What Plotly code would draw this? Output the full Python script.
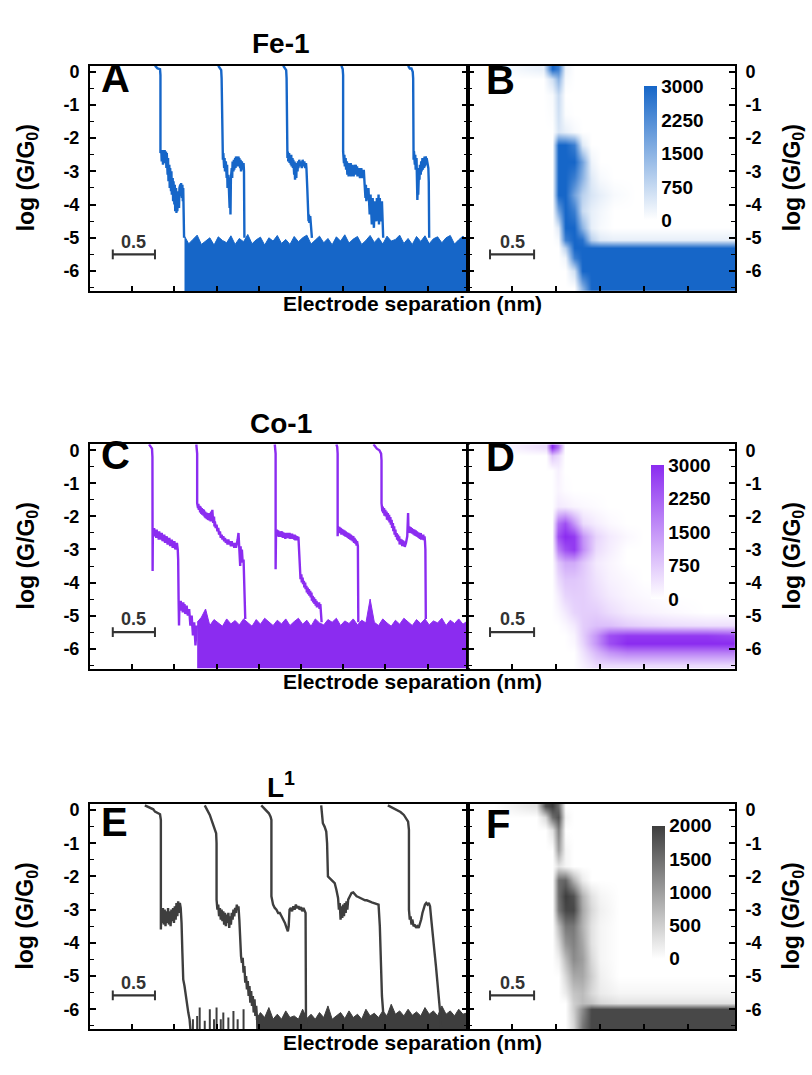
import plotly.graph_objects as go

# ---------------- data ----------------
# Panel traces: (x in nm-like units, log(G/G0))
FE_T1 = [(0.77,0.18),(0.80,0.10),(0.83,0.08),(0.835,-0.1),(0.835,-2.45),(0.845,-2.36),(0.85,-2.7),(0.86,-2.36),(0.865,-2.8),(0.87,-2.4),(0.88,-2.75),(0.885,-2.36),(0.89,-2.7),(0.90,-2.4),(0.905,-2.9),(0.91,-2.45),(0.92,-3.1),(0.925,-2.6),(0.93,-3.3),(0.94,-2.8),(0.945,-3.5),(0.95,-2.9),(0.96,-3.6),(0.965,-3.0),(0.97,-3.7),(0.98,-3.2),(0.985,-3.9),(0.99,-3.3),(1.0,-4.0),(1.005,-3.4),(1.01,-4.2),(1.02,-3.5),(1.025,-4.25),(1.03,-3.6),(1.035,-4.2),(1.045,-3.6),(1.055,-4.1),(1.06,-3.5),(1.07,-3.4),(1.075,-3.75),(1.08,-3.35),(1.09,-3.8),(1.095,-3.4),(1.10,-3.9),(1.105,-3.5),(1.11,-4.5),(1.115,-5.0)]
FE_T2 = [(1.52,0.18),(1.54,0.12),(1.555,0.05),(1.56,-0.2),(1.565,-1.5),(1.57,-2.3),(1.575,-2.65),(1.58,-2.45),(1.59,-2.9),(1.595,-2.6),(1.60,-3.0),(1.61,-2.7),(1.62,-3.2),(1.625,-2.8),(1.63,-3.5),(1.64,-3.1),(1.645,-3.8),(1.65,-3.3),(1.655,-4.1),(1.66,-3.5),(1.665,-4.3),(1.67,-3.2),(1.68,-2.9),(1.685,-3.2),(1.69,-2.7),(1.70,-3.0),(1.705,-2.65),(1.71,-2.95),(1.72,-2.6),(1.725,-2.9),(1.73,-2.55),(1.74,-2.85),(1.745,-2.6),(1.75,-2.8),(1.76,-2.55),(1.765,-2.85),(1.77,-2.6),(1.78,-2.9),(1.785,-2.65),(1.79,-3.0),(1.80,-2.7),(1.81,-2.95),(1.82,-2.75),(1.825,-3.0),(1.83,-5.0)]
FE_T3 = [(2.29,0.18),(2.31,0.12),(2.325,0.05),(2.33,-0.2),(2.335,-2.4),(2.34,-2.6),(2.345,-2.4),(2.35,-2.7),(2.36,-2.45),(2.365,-2.75),(2.37,-2.55),(2.38,-2.8),(2.385,-2.5),(2.39,-2.85),(2.40,-2.6),(2.405,-2.9),(2.41,-2.65),(2.42,-3.1),(2.425,-2.7),(2.43,-3.25),(2.44,-2.8),(2.445,-3.2),(2.45,-2.75),(2.46,-3.0),(2.465,-2.7),(2.47,-2.9),(2.48,-2.65),(2.49,-2.85),(2.50,-2.7),(2.51,-2.9),(2.52,-2.65),(2.53,-2.85),(2.54,-2.7),(2.55,-2.9),(2.56,-2.75),(2.565,-2.9),(2.575,-3.5),(2.58,-4.3),(2.59,-4.5),(2.595,-4.3),(2.60,-4.55),(2.61,-4.35),(2.62,-4.8),(2.63,-5.0)]
FE_T4 = [(2.98,0.18),(2.995,0.08),(3.0,-0.1),(3.0,-2.4),(3.01,-2.75),(3.015,-2.5),(3.02,-2.85),(3.03,-2.6),(3.035,-2.95),(3.045,-2.7),(3.05,-3.1),(3.06,-2.75),(3.065,-3.15),(3.075,-2.8),(3.08,-3.1),(3.09,-2.75),(3.095,-3.15),(3.105,-2.8),(3.11,-3.1),(3.12,-2.85),(3.125,-3.15),(3.135,-2.8),(3.14,-3.05),(3.15,-2.8),(3.155,-3.1),(3.165,-2.85),(3.17,-3.15),(3.185,-2.9),(3.20,-3.2),(3.215,-2.9),(3.23,-3.2),(3.245,-2.95),(3.255,-3.4),(3.265,-3.8),(3.27,-3.4),(3.275,-3.9),(3.285,-3.5),(3.29,-3.85),(3.30,-3.5),(3.31,-4.1),(3.315,-4.3),(3.325,-3.7),(3.33,-4.4),(3.34,-4.6),(3.35,-3.8),(3.355,-4.4),(3.365,-4.7),(3.375,-3.9),(3.38,-4.3),(3.395,-4.5),(3.40,-3.8),(3.41,-4.4),(3.42,-3.7),(3.425,-4.6),(3.435,-3.8),(3.44,-4.5),(3.455,-4.4),(3.46,-3.9),(3.465,-4.3),(3.47,-4.8),(3.475,-5.0)]
FE_T5 = [(3.77,0.18),(3.79,0.1),(3.81,0.1),(3.825,0.0),(3.83,-0.2),(3.83,-2.3),(3.835,-2.65),(3.84,-2.4),(3.85,-2.8),(3.855,-2.5),(3.86,-2.95),(3.87,-2.6),(3.875,-3.5),(3.88,-3.86),(3.885,-3.4),(3.89,-3.7),(3.90,-2.9),(3.905,-3.25),(3.91,-2.8),(3.92,-3.1),(3.925,-2.7),(3.93,-3.0),(3.94,-2.6),(3.945,-2.95),(3.95,-2.6),(3.96,-2.9),(3.965,-2.55),(3.97,-2.85),(3.98,-2.55),(3.985,-2.8),(3.99,-2.6),(4.0,-2.75),(4.01,-2.9),(4.015,-3.3),(4.02,-5.0)]
FE_FLOOR_X = [1.12,1.17,1.22,1.27,1.32,1.37,1.42,1.47,1.52,1.57,1.62,1.67,1.72,1.77,1.82,1.87,1.92,1.97,2.02,2.07,2.12,2.17,2.22,2.27,2.32,2.37,2.42,2.47,2.52,2.57,2.62,2.67,2.72,2.77,2.82,2.87,2.92,2.97,3.02,3.07,3.12,3.17,3.22,3.27,3.32,3.37,3.42,3.47,3.52,3.57,3.62,3.67,3.72,3.77,3.82,3.87,3.92,3.97,4.02,4.07,4.12,4.17,4.22,4.27,4.32,4.37,4.42,4.48]
FE_FLOOR_TOP = [-4.95,-5.18,-5.05,-4.92,-5.2,-5.1,-5.0,-5.22,-4.97,-5.08,
                -5.15,-4.94,-5.2,-5.02,-5.12,-4.9,-5.18,-5.06,-4.98,-5.22,
                -5.0,-5.1,-4.93,-5.17,-5.05,-5.2,-4.96,-5.12,-5.0,-4.92,
                -5.19,-5.07,-4.95,-5.15,-5.02,-5.21,-4.97,-5.1,-4.91,-5.16,
                -5.04,-4.96,-5.2,-5.08,-4.93,-5.14,-5.0,-5.19,-4.95,-5.1,
                -5.05,-4.92,-5.17,-5.02,-5.2,-4.96,-5.11,-4.94,-5.18,-5.03,
                -4.97,-5.15,-5.0,-4.93,-5.19,-5.06,-4.95,-5.1]

CO_T1 = [(0.70,0.18),(0.72,0.1),(0.735,0.05),(0.74,-0.2),(0.742,-3.65),(0.745,-2.4),(0.755,-2.6),(0.76,-2.35),(0.77,-2.6),(0.775,-2.4),(0.785,-2.65),(0.79,-2.4),(0.80,-2.65),(0.805,-2.45),(0.815,-2.7),(0.82,-2.45),(0.83,-2.7),(0.835,-2.5),(0.845,-2.7),(0.85,-2.5),(0.86,-2.75),(0.865,-2.55),(0.875,-2.75),(0.88,-2.55),(0.89,-2.8),(0.895,-2.6),(0.905,-2.8),(0.91,-2.6),(0.92,-2.85),(0.925,-2.65),(0.935,-2.85),(0.94,-2.65),(0.95,-2.9),(0.955,-2.7),(0.965,-2.9),(0.97,-2.7),(0.98,-2.95),(0.985,-2.75),(0.995,-2.95),(1.0,-2.75),(1.01,-3.0),(1.015,-2.8),(1.025,-3.0),(1.03,-2.8),(1.04,-3.0),(1.045,-3.3),(1.05,-4.5),(1.055,-5.3),(1.06,-4.6),(1.07,-4.85),(1.075,-4.55),(1.085,-4.85),(1.09,-4.6),(1.10,-4.9),(1.105,-4.6),(1.115,-4.9),(1.12,-4.65),(1.13,-4.95),(1.145,-4.7),(1.16,-5.0),(1.175,-4.8),(1.19,-5.3),(1.205,-5.0),(1.22,-5.6),(1.235,-5.2),(1.25,-5.9),(1.265,-5.3)]
CO_T2 = [(1.26,0.18),(1.265,0.1),(1.27,-0.1),(1.27,-1.6),(1.28,-1.75),(1.285,-1.62),(1.29,-1.8),(1.30,-1.68),(1.305,-1.88),(1.31,-1.7),(1.32,-1.92),(1.325,-1.75),(1.33,-1.95),(1.34,-1.78),(1.345,-1.98),(1.35,-1.8),(1.36,-2.02),(1.365,-1.85),(1.37,-2.05),(1.38,-1.88),(1.385,-2.08),(1.39,-1.9),(1.40,-2.1),(1.405,-1.92),(1.41,-2.12),(1.42,-1.9),(1.43,-2.15),(1.435,-1.85),(1.44,-2.1),(1.45,-1.8),(1.455,-2.15),(1.46,-2.2),(1.47,-2.0),(1.475,-2.3),(1.48,-2.15),(1.49,-2.35),(1.50,-2.25),(1.51,-2.45),(1.52,-2.35),(1.53,-2.55),(1.54,-2.45),(1.55,-2.65),(1.56,-2.55),(1.57,-2.7),(1.58,-2.6),(1.59,-2.75),(1.60,-2.65),(1.61,-2.8),(1.62,-2.7),(1.63,-2.85),(1.64,-2.7),(1.65,-2.85),(1.66,-2.75),(1.67,-2.9),(1.68,-2.75),(1.69,-2.9),(1.70,-2.8),(1.71,-2.95),(1.72,-2.8),(1.73,-2.95),(1.74,-2.85),(1.75,-2.7),(1.76,-2.5),(1.77,-2.9),(1.78,-3.5),(1.785,-2.9),(1.79,-3.3),(1.80,-3.0),(1.81,-3.4),(1.82,-3.3),(1.83,-4.0),(1.84,-5.1)]
CO_T3 = [(2.19,0.18),(2.195,0.1),(2.20,-0.1),(2.20,-3.6),(2.205,-2.4),(2.21,-2.6),(2.215,-2.4),(2.225,-2.6),(2.23,-2.42),(2.24,-2.62),(2.245,-2.45),(2.255,-2.62),(2.26,-2.45),(2.27,-2.6),(2.275,-2.45),(2.285,-2.65),(2.29,-2.48),(2.30,-2.65),(2.305,-2.5),(2.315,-2.68),(2.32,-2.5),(2.33,-2.65),(2.335,-2.5),(2.345,-2.65),(2.35,-2.5),(2.36,-2.66),(2.365,-2.5),(2.375,-2.68),(2.38,-2.52),(2.39,-2.66),(2.395,-2.52),(2.405,-2.68),(2.41,-2.55),(2.42,-2.7),(2.425,-2.55),(2.435,-2.72),(2.44,-2.58),(2.45,-2.72),(2.455,-2.6),(2.465,-2.72),(2.47,-2.62),(2.48,-3.4),(2.485,-3.8),(2.49,-3.65),(2.495,-3.9),(2.505,-3.75),(2.51,-4.0),(2.52,-3.85),(2.525,-4.05),(2.535,-3.95),(2.54,-4.15),(2.55,-4.0),(2.555,-4.2),(2.565,-4.1),(2.57,-4.3),(2.58,-4.15),(2.585,-4.35),(2.595,-4.2),(2.60,-4.4),(2.61,-4.25),(2.615,-4.45),(2.625,-4.3),(2.63,-4.55),(2.64,-4.4),(2.645,-4.6),(2.655,-4.45),(2.66,-4.65),(2.67,-4.5),(2.675,-4.7),(2.685,-4.55),(2.69,-4.75),(2.70,-4.6),(2.705,-4.75),(2.715,-4.6),(2.72,-4.8),(2.73,-4.65),(2.735,-4.8),(2.74,-5.1),(2.745,-5.2)]
CO_T4 = [(2.92,0.18),(2.93,0.1),(2.935,-0.1),(2.935,-2.6),(2.94,-2.3),(2.95,-2.5),(2.955,-2.32),(2.965,-2.5),(2.97,-2.35),(2.98,-2.55),(2.985,-2.38),(2.995,-2.55),(3.0,-2.4),(3.01,-2.58),(3.015,-2.42),(3.025,-2.6),(3.03,-2.45),(3.04,-2.62),(3.045,-2.48),(3.055,-2.65),(3.06,-2.5),(3.07,-2.68),(3.075,-2.52),(3.085,-2.7),(3.09,-2.55),(3.10,-2.72),(3.105,-2.58),(3.115,-2.75),(3.12,-2.6),(3.13,-2.8),(3.135,-2.65),(3.145,-2.82),(3.15,-2.7),(3.16,-2.88),(3.165,-2.75),(3.175,-2.9),(3.18,-5.2)]
CO_T5 = [(3.36,0.18),(3.38,0.1),(3.40,0.05),(3.43,0.0),(3.45,-0.1),(3.455,-0.3),(3.455,-1.6),(3.465,-1.85),(3.47,-1.7),(3.475,-1.9),(3.485,-1.75),(3.49,-1.98),(3.50,-1.8),(3.505,-2.0),(3.515,-1.85),(3.52,-2.1),(3.53,-1.9),(3.535,-2.12),(3.545,-1.95),(3.55,-2.18),(3.56,-2.02),(3.565,-2.25),(3.575,-2.1),(3.58,-2.35),(3.59,-2.2),(3.595,-2.45),(3.605,-2.3),(3.61,-2.55),(3.62,-2.4),(3.625,-2.62),(3.635,-2.5),(3.64,-2.7),(3.65,-2.55),(3.655,-2.75),(3.665,-2.6),(3.67,-2.85),(3.68,-2.68),(3.685,-2.85),(3.695,-2.7),(3.70,-2.9),(3.71,-2.72),(3.715,-2.9),(3.725,-2.75),(3.73,-2.92),(3.745,-2.8),(3.76,-2.6),(3.77,-1.9),(3.775,-2.5),(3.785,-2.3),(3.79,-2.5),(3.80,-2.32),(3.805,-2.5),(3.815,-2.35),(3.82,-2.52),(3.83,-2.38),(3.835,-2.55),(3.845,-2.4),(3.85,-2.58),(3.86,-2.42),(3.865,-2.6),(3.875,-2.45),(3.88,-2.62),(3.89,-2.48),(3.895,-2.65),(3.905,-2.5),(3.91,-2.68),(3.92,-2.5),(3.925,-2.7),(3.935,-2.55),(3.94,-2.7),(3.95,-2.55),(3.955,-2.72),(3.965,-2.6),(3.97,-2.75),(3.975,-3.0),(3.98,-5.1)]
CO_FLOOR_X = [1.27,1.32,1.37,1.42,1.47,1.52,1.57,1.62,1.67,1.72,1.77,1.82,1.87,1.92,1.97,2.02,2.07,2.12,2.17,2.22,2.27,2.32,2.37,2.42,2.47,2.52,2.57,2.62,2.67,2.72,2.77,2.82,2.87,2.92,2.97,3.02,3.07,3.12,3.17,3.22,3.27,3.32,3.37,3.42,3.47,3.52,3.57,3.62,3.67,3.72,3.77,3.82,3.87,3.92,3.97,4.02,4.07,4.12,4.17,4.22,4.27,4.32,4.37,4.42,4.48]
CO_FLOOR_TOP = [-5.2,-5.05,-4.8,-5.3,-5.12,-5.22,-5.32,-5.1,-5.25,-5.15,
                -5.28,-5.1,-5.22,-5.32,-5.12,-5.26,-5.08,-5.2,-5.3,-5.14,
                -5.25,-5.1,-5.3,-5.18,-5.08,-5.26,-5.14,-5.32,-5.1,-5.22,
                -5.28,-5.12,-5.2,-5.08,-5.3,-5.16,-5.24,-5.1,-5.28,-5.14,
                -5.22,-4.5,-5.2,-5.3,-5.1,-5.22,-5.32,-5.14,-5.26,-5.08,
                -5.2,-5.3,-5.12,-5.24,-5.1,-5.28,-5.16,-5.22,-5.08,-5.3,
                -5.14,-5.24,-5.1,-5.26,-5.15]

L_T1 = [(0.65,0.14),(0.68,0.1),(0.72,0.06),(0.75,0.02),(0.77,-0.05),(0.80,-0.1),(0.83,-0.13),(0.84,-0.3),(0.84,-3.6),(0.845,-3.0),(0.855,-3.4),(0.865,-2.95),(0.875,-3.45),(0.885,-3.0),(0.895,-3.5),(0.905,-3.05),(0.915,-3.4),(0.925,-2.95),(0.935,-3.45),(0.945,-3.05),(0.955,-3.5),(0.965,-3.0),(0.975,-3.35),(0.985,-2.95),(0.995,-3.4),(1.005,-2.9),(1.015,-3.3),(1.025,-2.8),(1.035,-3.2),(1.045,-2.75),(1.055,-3.1),(1.065,-2.8),(1.075,-2.95),(1.085,-3.4),(1.095,-4.3),(1.105,-5.1),(1.12,-5.3),(1.135,-5.6),(1.15,-5.8),(1.165,-6.1),(1.18,-6.3),(1.19,-6.6)]
L_T2 = [(1.36,0.14),(1.38,0.05),(1.40,-0.05),(1.42,-0.15),(1.44,-0.3),(1.46,-0.45),(1.48,-0.6),(1.495,-0.7),(1.50,-1.0),(1.50,-2.7),(1.51,-3.0),(1.52,-2.85),(1.53,-3.2),(1.54,-2.95),(1.55,-3.3),(1.56,-3.0),(1.57,-3.35),(1.58,-3.05),(1.59,-3.45),(1.60,-3.1),(1.61,-3.5),(1.62,-3.15),(1.63,-3.4),(1.64,-3.1),(1.65,-3.55),(1.66,-3.2),(1.67,-3.45),(1.68,-3.1),(1.69,-3.3),(1.70,-3.0),(1.71,-3.2),(1.72,-2.95),(1.73,-3.1),(1.74,-2.85),(1.75,-3.0),(1.76,-2.9),(1.77,-3.3),(1.78,-4.0),(1.79,-4.4),(1.80,-4.6),(1.81,-4.45),(1.82,-4.9),(1.83,-4.7),(1.84,-5.2),(1.85,-5.0),(1.86,-5.4),(1.87,-5.15),(1.88,-5.6),(1.89,-5.3),(1.90,-5.8),(1.91,-5.45),(1.92,-5.9),(1.93,-5.6),(1.94,-6.1),(1.95,-5.7),(1.96,-6.2),(1.97,-5.9),(1.98,-6.3),(1.99,-6.6)]
L_T3 = [(2.03,0.14),(2.06,0.05),(2.09,-0.02),(2.12,-0.1),(2.14,-0.2),(2.15,-0.3),(2.15,-2.6),(2.16,-2.75),(2.17,-2.85),(2.19,-2.95),(2.21,-3.0),(2.23,-3.1),(2.25,-3.1),(2.27,-3.2),(2.29,-3.3),(2.31,-3.4),(2.33,-3.55),(2.345,-3.65),(2.355,-3.5),(2.365,-3.0),(2.38,-2.95),(2.395,-3.05),(2.41,-2.9),(2.425,-3.0),(2.44,-2.85),(2.455,-2.95),(2.47,-2.9),(2.485,-3.0),(2.50,-2.92),(2.515,-3.05),(2.53,-2.95),(2.545,-3.05),(2.555,-3.1),(2.56,-6.6)]
L_T4 = [(2.74,0.14),(2.75,-0.1),(2.76,-0.4),(2.78,-0.5),(2.80,-0.65),(2.81,-1.0),(2.82,-2.0),(2.84,-2.05),(2.86,-2.1),(2.88,-2.15),(2.90,-2.2),(2.92,-2.4),(2.94,-2.65),(2.95,-3.0),(2.96,-2.8),(2.97,-3.3),(2.98,-2.9),(2.99,-3.25),(3.0,-2.85),(3.01,-3.2),(3.02,-2.8),(3.03,-3.1),(3.04,-2.75),(3.05,-3.0),(3.06,-2.7),(3.08,-2.6),(3.10,-2.5),(3.12,-2.48),(3.14,-2.55),(3.16,-2.6),(3.18,-2.62),(3.20,-2.65),(3.22,-2.68),(3.24,-2.7),(3.26,-2.72),(3.28,-2.72),(3.30,-2.75),(3.32,-2.76),(3.34,-2.78),(3.36,-2.8),(3.38,-2.8),(3.40,-2.82),(3.42,-2.85),(3.435,-3.5),(3.45,-4.8),(3.46,-5.6),(3.475,-6.1),(3.48,-6.6)]
L_T5 = [(3.53,0.14),(3.56,0.1),(3.60,0.06),(3.64,0.0),(3.68,-0.06),(3.72,-0.15),(3.745,-0.25),(3.77,-0.35),(3.78,-0.6),(3.78,-3.0),(3.79,-3.3),(3.80,-3.2),(3.81,-3.45),(3.82,-3.3),(3.835,-3.5),(3.85,-3.45),(3.865,-3.55),(3.88,-3.5),(3.895,-3.55),(3.91,-3.45),(3.925,-3.3),(3.94,-3.1),(3.955,-2.95),(3.97,-2.85),(3.985,-2.8),(4.0,-2.85),(4.015,-2.8),(4.03,-2.9),(4.045,-3.3),(4.06,-3.8),(4.08,-4.2),(4.10,-4.7),(4.12,-5.2),(4.135,-5.6),(4.15,-6.1),(4.16,-6.6)]
L_FLOOR_X = [1.97,2.02,2.07,2.12,2.17,2.22,2.27,2.32,2.37,2.42,2.47,2.52,2.57,2.62,2.67,2.72,2.77,2.82,2.87,2.92,2.97,3.02,3.07,3.12,3.17,3.22,3.27,3.32,3.37,3.42,3.47,3.52,3.57,3.62,3.67,3.72,3.77,3.82,3.87,3.92,3.97,4.02,4.07,4.12,4.17,4.22,4.27,4.32,4.37,4.42,4.48]
L_FLOOR_TOP = [-6.3,-6.1,-6.25,-5.95,-6.3,-6.15,-6.3,-6.05,-6.25,-6.2,
               -6.3,-6.0,-6.28,-6.15,-6.3,-6.1,-6.25,-5.9,-6.3,-6.2,
               -6.1,-6.28,-6.05,-6.25,-6.15,-6.3,-6.0,-6.2,-6.12,-6.25,
               -6.05,-6.2,-5.85,-6.15,-6.05,-6.2,-6.0,-6.18,-6.08,-6.2,
               -5.95,-6.15,-6.05,-6.2,-5.9,-6.15,-6.05,-6.2,-6.0,-6.15,
               -6.1]
L_SPIKE_X = [1.22,1.27,1.30,1.36,1.42,1.47,1.50,1.55,1.58,1.64,1.70,1.75,1.82]
L_SPIKE_TOP = [-6.3,-6.2,-5.95,-6.35,-6.0,-6.3,-5.95,-6.3,-6.1,-6.25,-6.05,-6.3,-6.0]

# 2D histogram counts (coarse grid, cell centres)
B_X = [0.3,0.85,0.95,1.02,1.1,1.2,1.3,1.4,1.5,1.65,1.9,2.4,2.95]
B_Y = [0.1,-0.2,-0.7,-1.3,-1.8,-2.2,-2.7,-3.2,-3.7,-4.2,-4.7,-5.05,-5.3,-5.6,-6.0,-6.5]
B_Z = [[0,300,3000,2500,200,0,0,0,0,0,0,0,0],
       [0,0,600,1500,100,0,0,0,0,0,0,0,0],
       [0,0,100,700,0,0,0,0,0,0,0,0,0],
       [0,0,50,600,50,0,0,0,0,0,0,0,0],
       [0,0,0,500,300,100,0,0,0,0,0,0,0],
       [0,0,0,3000,3000,2500,400,0,0,0,0,0,0],
       [0,0,0,3000,3000,3000,1800,200,0,0,0,0,0],
       [0,0,0,3000,3000,2500,1500,400,100,0,0,0,0],
       [0,0,0,3000,3000,1800,900,500,300,100,0,0,0],
       [0,0,0,1800,3000,2500,700,300,150,0,0,0,0],
       [0,0,0,400,3000,3000,1500,300,100,0,0,0,0],
       [0,0,0,100,2500,3000,2800,900,400,300,300,300,300],
       [0,0,0,0,900,3000,3000,3000,3000,3000,3000,3000,3000],
       [0,0,0,0,200,2500,3000,3000,3000,3000,3000,3000,3000],
       [0,0,0,0,0,600,3000,3000,3000,3000,3000,3000,3000],
       [0,0,0,0,0,0,1500,3000,3000,3000,3000,3000,3000]]
D_X = [0.3,0.88,0.95,1.02,1.1,1.2,1.3,1.45,1.6,1.8,2.0,2.3,2.7,3.0]
D_Y = [0.1,-0.15,-0.6,-1.2,-1.7,-2.2,-2.6,-3.0,-3.4,-3.9,-4.4,-4.9,-5.3,-5.6,-5.85,-6.1,-6.5]
D_Z = [[0,500,3000,2000,0,0,0,0,0,0,0,0,0,0],
       [0,0,800,500,0,0,0,0,0,0,0,0,0,0],
       [0,0,0,200,0,0,0,0,0,0,0,0,0,0],
       [0,0,0,150,50,0,0,0,0,0,0,0,0,0],
       [0,0,0,300,250,150,100,50,0,0,0,0,0,0],
       [0,0,0,2000,2500,1500,500,250,100,0,0,0,0,0],
       [0,0,0,2500,3000,2800,1500,600,300,100,0,0,0,0],
       [0,0,0,1800,2500,2800,1600,500,250,0,0,0,0,0],
       [0,0,0,800,1200,1200,800,300,150,0,0,0,0,0],
       [0,0,0,500,800,800,700,400,200,100,0,0,0,0],
       [0,0,0,250,600,700,700,500,300,150,80,0,0,0],
       [0,0,0,100,300,600,700,700,500,300,200,100,0,0],
       [0,0,0,0,100,300,700,900,900,700,600,500,450,450],
       [0,0,0,0,0,150,700,1500,2500,2800,2800,2800,2800,2600],
       [0,0,0,0,0,100,600,1500,2500,3000,3000,3000,3000,3000],
       [0,0,0,0,0,0,400,1000,1500,1800,1800,1800,1800,1800],
       [0,0,0,0,0,0,200,500,500,500,500,500,500,500]]
F_X = [0.3,0.78,0.88,0.96,1.02,1.1,1.2,1.3,1.4,1.5,1.7,2.2,3.0]
F_Y = [0.12,-0.2,-0.6,-1.2,-1.7,-2.1,-2.6,-3.0,-3.5,-4.0,-4.5,-5.0,-5.5,-5.8,-6.0,-6.5]
F_Z = [[0,300,1800,2000,1500,0,0,0,0,0,0,0,0],
       [0,0,400,1500,1800,100,0,0,0,0,0,0,0],
       [0,0,0,300,1300,0,0,0,0,0,0,0,0],
       [0,0,0,0,1000,100,0,0,0,0,0,0,0],
       [0,0,0,0,300,100,0,0,0,0,0,0,0],
       [0,0,0,0,1500,1600,800,200,0,0,0,0,0],
       [0,0,0,0,1500,2000,1800,800,300,100,0,0,0],
       [0,0,0,0,1400,1900,1900,900,400,150,0,0,0],
       [0,0,0,0,700,1400,1400,800,300,100,0,0,0],
       [0,0,0,0,400,1100,1300,900,300,100,0,0,0],
       [0,0,0,0,150,700,1200,1000,400,100,0,0,0],
       [0,0,0,0,0,400,900,900,500,150,0,0,0],
       [0,0,0,0,0,200,600,700,400,200,100,100,100],
       [0,0,0,0,0,0,500,700,600,400,300,300,300],
       [0,0,0,0,0,0,500,1200,1900,1900,1900,1900,1900],
       [0,0,0,0,0,0,400,1400,1900,1900,1900,1900,1900]]

ROW_TITLES = ["Fe-1", "Co-1", "L<sup>1</sup>"]
PANEL_LETTERS = [("A", "B"), ("C", "D"), ("E", "F")]
Y_TICKS = [0, -1, -2, -3, -4, -5, -6]
Y_TICKTEXT = ["0", "-1", "-2", "-3", "-4", "-5", "-6"]
LEFT_XTICKS = [0.5, 1.0, 1.5, 2.0, 2.5, 3.0, 3.5, 4.0]
RIGHT_XTICKS = [0.5, 1.0, 1.5, 2.0, 2.5]
CB_TICKS = [[0, 750, 1500, 2250, 3000], [0, 750, 1500, 2250, 3000], [0, 500, 1000, 1500, 2000]]
CB_MAX = [3000, 3000, 2000]
SCALE_NM = 0.5

# ---------------- styling / layout ----------------
FONT = "Liberation Sans, Arial, Helvetica, sans-serif"
COLORS = ["rgb(22,102,200)", "rgb(139,44,240)", "rgb(62,62,62)"]
W, H = 812, 1075
Y_RANGE = [-6.6, 0.18]
LEFT_RANGE = [0, 4.48]
RIGHT_RANGE = [0, 3.03]
PX_L, PX_M, PX_R = 90, 468, 735
ROWS_PX = [(62, 288), (442, 667), (803, 1029)]
CB_PX = [(644, 83, 217), (651, 463, 597), (652, 825, 958)]
LETTER_TOP = [50, 429, 797]
TITLE_Y = [40, 421, 784]


def fx(p):
    return p / W


def fy(p):
    return 1 - p / H


def bold(size, color="black"):
    return dict(family=FONT, size=size, color=color, weight="bold")


fig = go.Figure()
layout = dict(width=W, height=H, margin=dict(l=0, r=0, t=0, b=0),
              paper_bgcolor="white", plot_bgcolor="white", showlegend=False)
annotations = []

row_traces = [[FE_T1, FE_T2, FE_T3, FE_T4, FE_T5],
              [CO_T1, CO_T2, CO_T3, CO_T4, CO_T5],
              [L_T1, L_T2, L_T3, L_T4, L_T5]]
row_floor = [(FE_FLOOR_X, FE_FLOOR_TOP), (CO_FLOOR_X, CO_FLOOR_TOP), (L_FLOOR_X, L_FLOOR_TOP)]
row_hist = [(B_X, B_Y, B_Z), (D_X, D_Y, D_Z), (F_X, F_Y, F_Z)]

for r in range(3):
    top, bot = ROWS_PX[r]
    color = COLORS[r]
    nl, nr = 2 * r + 1, 2 * r + 2
    xl = "x" if nl == 1 else f"x{nl}"
    yl = "y" if nl == 1 else f"y{nl}"
    xr, yr = f"x{nr}", f"y{nr}"

    common_y = dict(range=Y_RANGE, domain=[fy(bot), fy(top)], tickmode="array",
                    tickvals=Y_TICKS, ticktext=Y_TICKTEXT, ticks="inside", ticklen=6,
                    tickwidth=1.5, tickcolor="black",
                    minor=dict(tickmode="linear", tick0=0, dtick=0.5, ticks="inside",
                               ticklen=4, tickwidth=1.2, tickcolor="black"),
                    showline=True, linewidth=2, linecolor="black", mirror="ticks",
                    showgrid=False, zeroline=False, tickfont=bold(18), ticklabelstandoff=5)
    common_x = dict(tickmode="array", ticks="inside", ticklen=5, tickwidth=1.5,
                    tickcolor="black", showticklabels=False, showline=True, linewidth=2,
                    linecolor="black", mirror=True, showgrid=False, zeroline=False)
    layout["xaxis" if nl == 1 else f"xaxis{nl}"] = dict(common_x, range=LEFT_RANGE,
                                                       domain=[fx(PX_L), fx(PX_M)],
                                                       tickvals=LEFT_XTICKS, anchor=yl)
    layout["yaxis" if nl == 1 else f"yaxis{nl}"] = dict(common_y, side="left", anchor=xl)
    layout[f"xaxis{nr}"] = dict(common_x, range=RIGHT_RANGE, domain=[fx(PX_M), fx(PX_R)],
                                tickvals=RIGHT_XTICKS, anchor=yr)
    layout[f"yaxis{nr}"] = dict(common_y, side="right", anchor=xr)

    # noise floor (filled band)
    fxs, ftop = row_floor[r]
    fig.add_trace(go.Scatter(x=[fxs[0], fxs[-1]], y=[Y_RANGE[0], Y_RANGE[0]], mode="lines",
                             line=dict(width=0, color=color), xaxis=xl, yaxis=yl,
                             hoverinfo="skip"))
    fig.add_trace(go.Scatter(x=fxs, y=ftop, mode="lines", fill="tonexty", fillcolor=color,
                             line=dict(width=1, color=color), xaxis=xl, yaxis=yl,
                             hoverinfo="skip"))
    if r == 2:
        sx, sy = [], []
        for xv, tv in zip(L_SPIKE_X, L_SPIKE_TOP):
            sx += [xv, xv, None]
            sy += [Y_RANGE[0], tv, None]
        fig.add_trace(go.Scatter(x=sx, y=sy, mode="lines", line=dict(width=2, color=color),
                                 xaxis=xl, yaxis=yl, hoverinfo="skip"))
    # single traces
    for tr in row_traces[r]:
        xs, ys = zip(*tr)
        fig.add_trace(go.Scatter(x=list(xs), y=list(ys), mode="lines",
                                 line=dict(width=2.4, color=color), xaxis=xl, yaxis=yl,
                                 hoverinfo="skip"))
    # 2D histogram
    hx, hy, hz = row_hist[r]
    cbx, cbt, cbb = CB_PX[r]
    fig.add_trace(go.Heatmap(
        x=hx, y=hy, z=hz, zsmooth="best", zmin=0, zmax=CB_MAX[r],
        colorscale=[[0, "rgb(255,255,255)"], [1, color]], xaxis=xr, yaxis=yr,
        colorbar=dict(x=fx(cbx), xanchor="left", xpad=0, y=fy((cbt + cbb) / 2),
                      yanchor="middle", ypad=0, len=(cbb - cbt) / H, lenmode="fraction",
                      thickness=13, thicknessmode="pixels", outlinewidth=0,
                      tickmode="array", tickvals=CB_TICKS[r],
                      ticktext=[str(v) for v in CB_TICKS[r]], ticks="",
                      tickfont=bold(19))))

    # scale bars
    for xa, ya, x0 in ((xl, yl, 0.27), (xr, yr, 0.25)):
        ybar = -5.5 if r < 2 else -5.58
        fig.add_trace(go.Scatter(x=[x0, x0 + SCALE_NM], y=[ybar, ybar], mode="lines+markers",
                                 line=dict(width=2.2, color="#333"),
                                 marker=dict(symbol="line-ns-open", size=7,
                                             line=dict(width=2, color="#333")),
                                 xaxis=xa, yaxis=ya, hoverinfo="skip"))
        annotations.append(dict(x=x0 + SCALE_NM / 2, y=ybar + 0.02, xref=xa, yref=ya,
                                text="0.5", showarrow=False, yanchor="bottom",
                                font=bold(18, "#333")))

    # panel letters
    lt = LETTER_TOP[r]
    annotations.append(dict(x=fx(PX_L + 9), y=fy(lt), xref="paper", yref="paper",
                            text=PANEL_LETTERS[r][0], showarrow=False, xanchor="left",
                            yanchor="top", font=bold(40)))
    annotations.append(dict(x=fx(PX_M + 16), y=fy(lt + 2), xref="paper", yref="paper",
                            text=PANEL_LETTERS[r][1], showarrow=False, xanchor="left",
                            yanchor="top", font=bold(40)))
    # row title
    annotations.append(dict(x=fx(281), y=fy(TITLE_Y[r]), xref="paper", yref="paper",
                            text=ROW_TITLES[r], showarrow=False, xanchor="center",
                            yanchor="middle", font=bold(28)))
    # x title
    annotations.append(dict(x=fx((PX_L + PX_R) / 2), y=fy(bot + 13), xref="paper",
                            yref="paper", text="Electrode separation (nm)", showarrow=False,
                            xanchor="center", yanchor="middle", font=bold(21)))
    # y titles
    ymid = fy((top + bot) / 2)
    for xp in (27, 793):
        annotations.append(dict(x=fx(xp), y=ymid, xref="paper", yref="paper",
                                text="log (G/G<sub>0</sub>)", showarrow=False,
                                textangle=-90, xanchor="center", yanchor="middle",
                                font=bold(23)))

layout["annotations"] = annotations
fig.update_layout(**layout)
fig.write_html("out.html")
